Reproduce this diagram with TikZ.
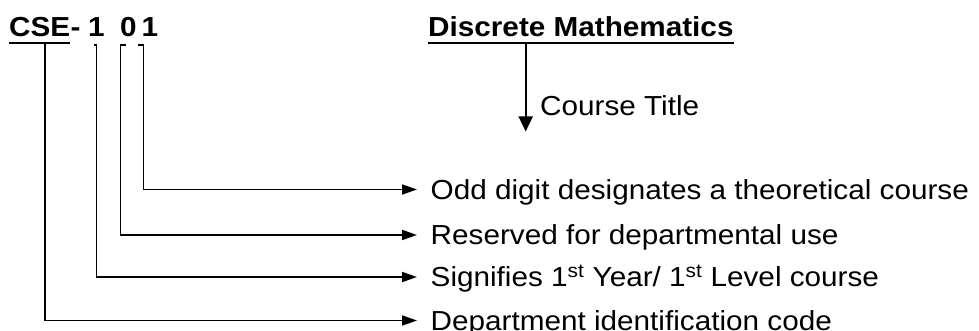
\documentclass[tikz,border=0pt]{standalone}
\usepackage{fontspec}
\setmainfont[FakeStretch=1.08]{Liberation Sans}
\usetikzlibrary{arrows.meta,calc}
\begin{document}
\begin{tikzpicture}[x=1pt,y=-1pt,
  txt/.style={inner sep=0pt, font=\fontsize{27.5pt}{31pt}\selectfont},
  hdr/.style={inner sep=0pt, font=\fontsize{27.5pt}{31pt}\selectfont\bfseries, anchor=base},
  lbl/.style={txt, anchor=west, inner xsep=13.5pt, inner ysep=0pt, text height=19.7pt, text depth=0pt},
  conn/.style={line width=1.8pt, -{Triangle[length=15pt,width=10pt]}},
  uline/.style={line width=2pt}]
\useasboundingbox (0,0) rectangle (979,331);

% header
\node[hdr, anchor=base west] (cse) at (9,37) {CSE};
\node[hdr, anchor=base west] (dash) at (cse.base east) {-};
\node[hdr] (dA) at (96.5,37) {1};
\node[hdr] (dB) at (128.5,37) {0};
\node[hdr] (dC) at (150,37) {1};
\node[hdr, anchor=base west] (title) at (428,36.5) {Discrete Mathematics};

\draw[uline] ($(cse.base west)+(0,6)$) -- ($(cse.base east)+(0,6)$);
\draw[uline] ($(title.base west)+(0,7)$) -- ($(title.base east)+(0,7)$);

% labels
\node[lbl] (lA) at (417,189.5) {Odd digit designates a theoretical course};
\node[lbl] (lB) at (417,235) {Reserved for departmental use};
\node[lbl] (lC) at (417,277) {Signifies 1\textsuperscript{st} Year/ 1\textsuperscript{st} Level course};
\node[lbl] (lD) at (417,320.5) {Department identification code};

% connectors
\draw[conn] ($(cse.base west)+(36,6)$) |- (lD.west);
\draw[conn] ($(dA.base)+(-3,8)$) -- ++(3,0) |- (lC.west);
\draw[conn] ($(dB.base)+(-2.5,8)$) -- ++(-5.5,0) |- (lB.west);
\draw[conn] ($(dC.base)+(-12,8)$) -- ++(5.5,0) |- (lA.west);

% course title
\coordinate (tt) at ($(title.base west)+(97.7,7)$);
\coordinate (ct) at ($(title.base west)+(97.7,95)$);
\draw[line width=1.8pt, -{Triangle[length=15pt,width=14pt]}] (tt) -- (ct);
\node[txt, anchor=base west] (course) at (540,116) {Course Title};
\end{tikzpicture}
\end{document}
